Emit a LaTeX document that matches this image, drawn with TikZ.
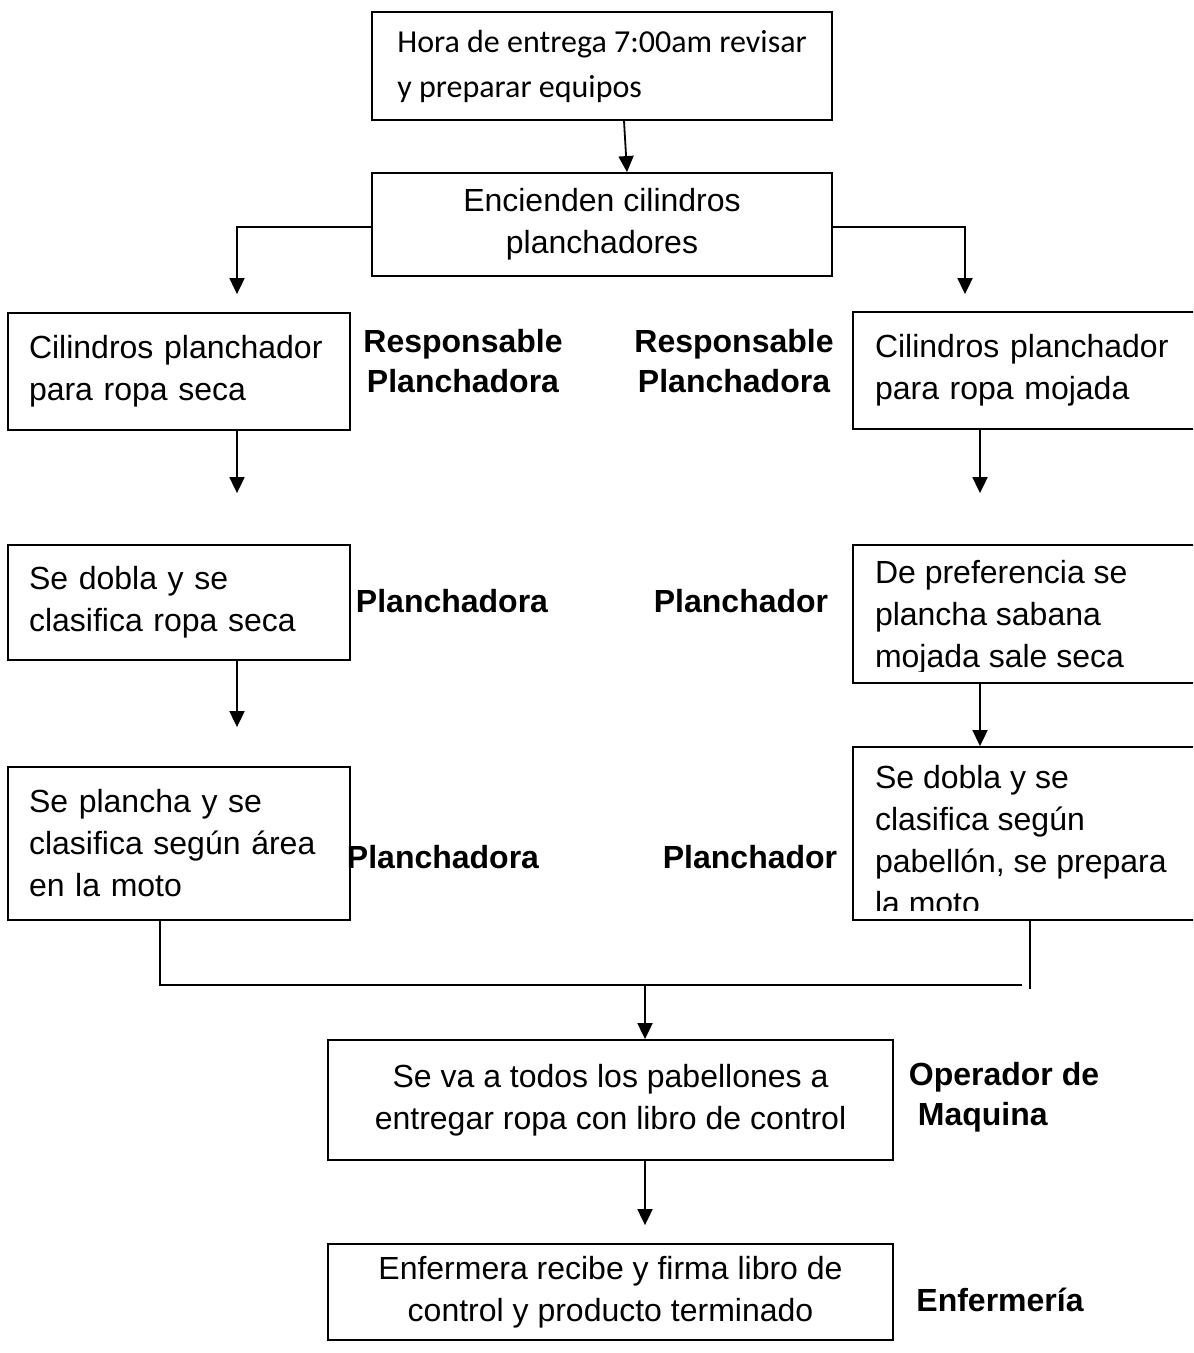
\documentclass[tikz,border=0pt]{standalone}
\usepackage{fontspec}
\setmainfont{Liberation Sans}
\newfontfamily\calibri{Carlito}
\usetikzlibrary{arrows.meta}

\tikzset{
  paso/.style={draw, line width=0.9pt, inner xsep=10.5pt, inner ysep=0pt, font=\fontsize{16}{21}\selectfont},
  lado/.style={paso, minimum width=171pt, text width=150pt, align=left},
  ladoder/.style={paso, minimum width=180pt, text width=158pt, inner xsep=11pt, align=left},
  texto/.style={inner sep=0pt, align=left, font=\fontsize{16}{21}\selectfont},
  resp/.style={inner sep=0pt, align=center, font=\fontsize{16}{20}\selectfont\bfseries},
}

\begin{document}
\begin{tikzpicture}[x=0.5pt, y=-0.5pt, line width=0.9pt, >={Triangle[width=7.5pt,length=8pt]}]
  \clip (0,0) rectangle (1193,1353);

  % top of the flow
  \node[paso, minimum width=230pt, minimum height=54pt, align=left,
        font=\calibri\fontsize{16}{22.5}\selectfont] (hora) at (602,66)
        {Hora de entrega 7:00am revisar\\y preparar equipos};
  \node[paso, minimum width=230pt, minimum height=51.5pt, align=center] (enc) at (602,224.5)
        {Encienden cilindros\\planchadores};

  % left column
  \node[lado, minimum height=58.5pt] (seca) at (179,371.5) {Cilindros planchador\\para ropa seca};
  \node[lado, minimum height=57.5pt] (dobla) at (179,602.5) {Se dobla y se\\clasifica ropa seca};
  \node[lado, minimum height=76.5pt] (plancha) at (179,843.5) {Se plancha y se\\clasifica según área\\en la moto};

  % right column (boxes run past the edge, text cut by the box)
  \node[ladoder, minimum height=58.5pt] (mojada) at (1033,370.5) {Cilindros planchador\\para ropa mojada};
  \node[paso, minimum width=180pt, minimum height=69pt] (sabana) at (1033,614) {};
  \begin{scope}
    \clip ([yshift=6pt]sabana.south west) rectangle (sabana.north east);
    \node[texto, anchor=west] (sabanat) at ([xshift=11pt, yshift=-1.5pt]sabana.west)
      {De preferencia se\\plancha sabana\\mojada sale seca};
  \end{scope}
  \node[paso, minimum width=180pt, minimum height=86.5pt] (pabellon) at (1033,833.5) {};
  \begin{scope}
    \clip ([yshift=5pt]pabellon.south west) rectangle (pabellon.north east);
    \node[texto, anchor=west] (pabellont) at ([xshift=11pt, yshift=-3.5pt]pabellon.west)
      {Se dobla y se\\clasifica según\\pabellón, se prepara\\la moto};
  \end{scope}

  % bottom of the flow
  \node[paso, minimum width=282.5pt, minimum height=60pt, align=center] (entrega) at (610.5,1100)
        {Se va a todos los pabellones a\\entregar ropa con libro de control};
  \node[paso, minimum width=282.5pt, minimum height=48pt, align=center] (firma) at (610.5,1292)
        {Enfermera recibe y firma libro de\\control y producto terminado};

  % responsables
  \node[resp] (resp1) at (463,361) {Responsable\\Planchadora};
  \node[resp] (resp2) at (734,361) {Responsable\\Planchadora};
  \node[resp] (pla1) at (452,601) {Planchadora};
  \node[resp] (pla2) at (741,601) {Planchador};
  \node[resp] (pla3) at (443,857) {Planchadora};
  \node[resp] (pla4) at (750,857) {Planchador};
  \node[resp, align=left, anchor=west] (oper) at (908,1097) {Operador de\\\hspace*{4.5pt}Maquina};
  \node[resp] (enfer) at (1000,1300) {Enfermería};

  \coordinate (junta) at (645,985);
  \coordinate (juntader) at (1022,985);

  \draw[->] ([xshift=11pt]hora.south) -- ([xshift=12.5pt]enc.north);
  \draw[->, shorten >=9pt] ([yshift=-1.25pt]enc.west) -| ([xshift=29pt]seca.north);
  \draw[->, shorten >=8.5pt] ([yshift=-1.25pt]enc.east) -| ([xshift=-34pt]mojada.north);
  \draw[->, shorten >=25.5pt] ([xshift=29pt]seca.south) -- ([xshift=29pt]dobla.north);
  \draw[->, shorten >=19.5pt] ([xshift=29pt]dobla.south) -- ([xshift=29pt]plancha.north);
  \draw[->, shorten >=25.5pt] ([xshift=-26.5pt]mojada.south) -- ([xshift=-26.5pt]sabana.north);
  \draw[->] ([xshift=-26.5pt]sabana.south) -- ([xshift=-26.5pt]pabellon.north);
  \draw ([xshift=-9.5pt]plancha.south) |- (juntader);
  \draw ([xshift=-1.5pt]pabellon.south) -- ++(0,68);
  \draw[->] (junta) -- (entrega.north -| junta);
  \draw[->, shorten >=9pt] ([xshift=17.25pt]entrega.south) -- ([xshift=17.25pt]firma.north);
\end{tikzpicture}
\end{document}
